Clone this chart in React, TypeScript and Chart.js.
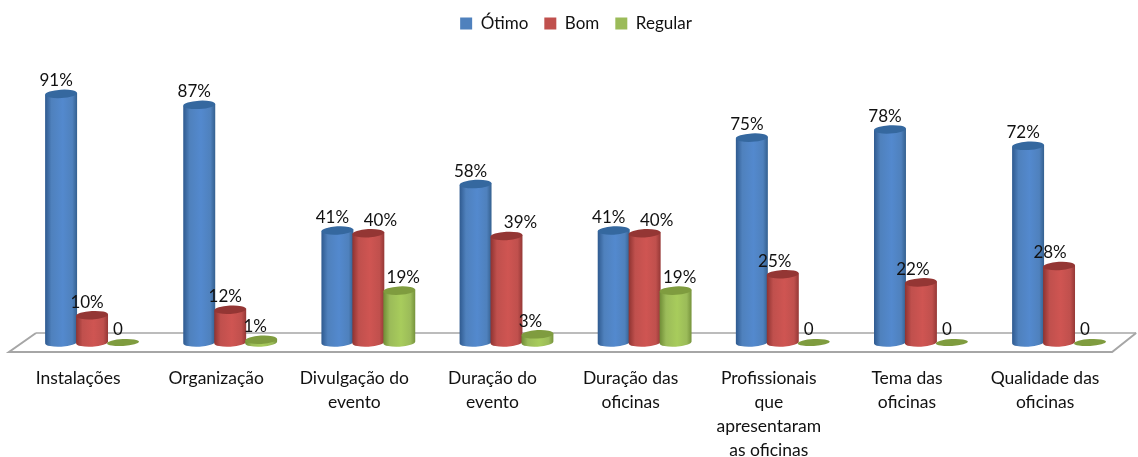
import React, { useEffect, useRef } from "react";
import { Chart, registerables } from "chart.js";

Chart.register(...registerables);

const categories: (string | string[])[] = [
  "Instalações",
  "Organização",
  ["Divulgação do", "evento"],
  ["Duração do", "evento"],
  ["Duração das", "oficinas"],
  ["Profissionais", "que", "apresentaram", "as oficinas"],
  ["Tema das", "oficinas"],
  ["Qualidade das", "oficinas"],
];
const otimo = [91, 87, 41, 58, 41, 75, 78, 72];
const bom = [10, 12, 40, 39, 40, 25, 22, 28];
const regular = [0, 1, 19, 3, 19, 0, 0, 0];

const FONT = "Lato, Carlito, sans-serif";
const SHADES = [
  { edge: "#2f5a8f", mid: "#5389ce", right: "#34608f", top: "#35689f", flat: "#4f81bd" },
  { edge: "#8e3331", mid: "#cf5552", right: "#953836", top: "#943634", flat: "#c0504d" },
  { edge: "#6f8c36", mid: "#a8cc5c", right: "#76933c", top: "#7f9c3f", flat: "#9bbb59" },
];
const TILT = -0.055;
const RY = 4.2;
// horizontal nudge of each value label from its bar's centre, per series
const LABEL_NUDGE = [
  [-5, -5, -5, -5, -5, -5, -5, -5],
  [-5, -5, 12, 14, 12, -8, -8, -9],
  [-5, -6, 4, -7, 4, -5, -5, -5],
];

const cylinders = {
  id: "cylinders",
  beforeDatasetsDraw(chart: any) {
    const { ctx, chartArea: a } = chart;
    ctx.save();
    ctx.strokeStyle = "#a6a6a6";
    ctx.lineWidth = 1.4;
    ctx.beginPath();
    ctx.moveTo(a.left + 13, a.bottom - 9.5);
    ctx.lineTo(a.right + 8, a.bottom - 9.5);
    ctx.stroke();
    ctx.lineWidth = 2;
    ctx.beginPath();
    ctx.moveTo(a.left + 13, a.bottom - 9.5);
    ctx.lineTo(a.left - 14, a.bottom + 9.5);
    ctx.lineTo(a.right - 16, a.bottom + 9.5);
    ctx.lineTo(a.right + 8, a.bottom - 9.5);
    ctx.stroke();
    ctx.restore();
  },
  afterDatasetsDraw(chart: any) {
    const { ctx } = chart;
    ctx.save();
    chart.data.datasets.forEach((_: any, d: number) => {
      const s = SHADES[d];
      chart.getDatasetMeta(d).data.forEach((el: any) => {
        const { x, y, base, width } = el.getProps(["x", "y", "base", "width"], true);
        const rx = width / 2 + 0.5;
        if (base - y < 0.5) {
          ctx.fillStyle = s.top;
          ctx.beginPath();
          ctx.ellipse(x, base, rx, RY - 0.7, TILT, 0, Math.PI * 2);
          ctx.fill();
          return;
        }
        const g = ctx.createLinearGradient(x - rx, 0, x + rx, 0);
        g.addColorStop(0, s.edge);
        g.addColorStop(0.2, s.flat);
        g.addColorStop(0.55, s.mid);
        g.addColorStop(0.85, s.flat);
        g.addColorStop(1, s.right);
        const dy = Math.sin(TILT) * rx;
        ctx.fillStyle = g;
        ctx.beginPath();
        ctx.moveTo(x - rx, y - dy);
        ctx.lineTo(x - rx, base - dy);
        ctx.ellipse(x, base, rx, RY, TILT, Math.PI, 0, true);
        ctx.lineTo(x + rx, y + dy);
        ctx.closePath();
        ctx.fill();
        ctx.fillStyle = s.top;
        ctx.beginPath();
        ctx.ellipse(x, y, rx, RY, TILT, 0, Math.PI * 2);
        ctx.fill();
      });
    });
    ctx.fillStyle = "#111";
    ctx.font = `17px ${FONT}`;
    ctx.textAlign = "center";
    ctx.textBaseline = "middle";
    chart.data.datasets.forEach((ds: any, d: number) => {
      chart.getDatasetMeta(d).data.forEach((el: any, i: number) => {
        const v = ds.data[i];
        ctx.fillText(v === 0 ? "0" : `${v}%`, el.x + LABEL_NUDGE[d][i], el.y - 13);
      });
    });
    ctx.restore();
  },
};

export default function App() {
  const ref = useRef<HTMLCanvasElement>(null);
  useEffect(() => {
    const chart = new Chart(ref.current!, {
      type: "bar",
      data: {
        labels: categories as any,
        datasets: [
          { label: "Ótimo", data: otimo, backgroundColor: SHADES[0].flat },
          { label: "Bom", data: bom, backgroundColor: SHADES[1].flat },
          { label: "Regular", data: regular, backgroundColor: SHADES[2].flat },
        ],
      },
      plugins: [cylinders],
      options: {
        responsive: false,
        animation: false,
        layout: { padding: { left: 23, right: 9, top: -1, bottom: 0 } },
        datasets: { bar: { categoryPercentage: 0.672, barPercentage: 1 } },
        plugins: {
          tooltip: { enabled: false },
          legend: {
            position: "top",
            labels: {
              boxWidth: 12,
              boxHeight: 12,
              padding: 16,
              color: "#111",
              font: { family: FONT, size: 17 },
            },
          },
        },
        scales: {
          y: { display: false, min: 0, max: 110 },
          x: {
            grid: { display: false, drawTicks: false },
            border: { display: false },
            afterFit: (s: any) => {
              s.height = 114.5;
            },
            ticks: {
              color: "#111",
              padding: 24,
              labelOffset: -14,
              maxRotation: 0,
              autoSkip: false,
              font: { family: FONT, size: 17.5, lineHeight: 1.37 },
            },
          },
        },
      },
    } as any);
    return () => chart.destroy();
  }, []);
  return (
    <div style={{ position: "absolute", left: 0, top: 0, width: 1138, height: 457 }}>
      <canvas ref={ref} width={1138} height={457} style={{ display: "block" }} />
    </div>
  );
}
